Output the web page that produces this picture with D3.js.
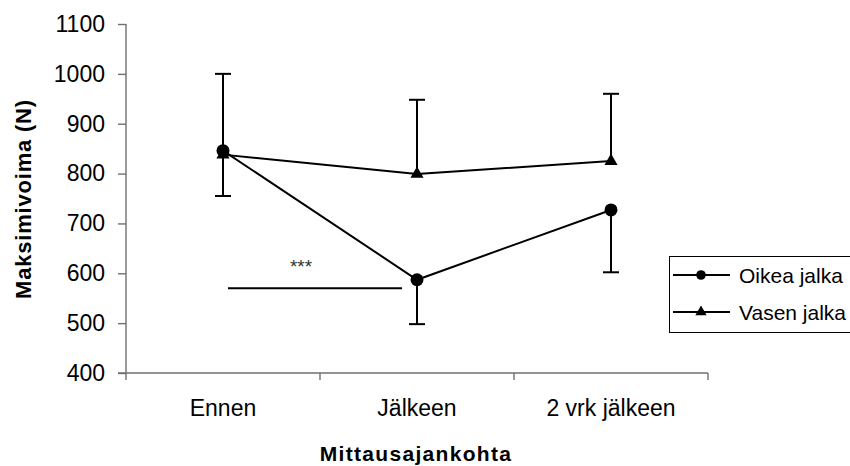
<!DOCTYPE html>
<html>
<head>
<meta charset="utf-8">
<script src="https://cdn.jsdelivr.net/npm/d3@7"></script>
<style>
  html, body { margin: 0; padding: 0; background: #fff; }
  svg { display: block; font-family: "Liberation Sans", Arial, sans-serif; }
</style>
</head>
<body>
<svg id="chart" width="850" height="466"></svg>
<script>
// Measurement times
const categories = ["Ennen", "Jälkeen", "2 vrk jälkeen"];
// Right leg: mean force and SD (drawn downward)
const oikeaValues = [846, 587, 727];
const oikeaSd = [91, 89, 125];
// Left leg: mean force and SD (drawn upward)
const vasenValues = [838, 799, 825];
const vasenSd = [162, 149, 135];
// Y axis ticks
const yTicks = [400, 500, 600, 700, 800, 900, 1000, 1100];
// Significance marker between Ennen and Jälkeen (right leg)
const significance = { from: "Ennen", to: "Jälkeen", value: 570, label: "***" };
const seriesNames = ["Oikea jalka", "Vasen jalka"];

const svg = d3.select("#chart");
const plot = { left: 126, right: 708, top: 24, bottom: 373 };

const x = d3.scalePoint().domain(categories).range([plot.left, plot.right]).padding(0.5);
const xBand = d3.scaleBand().domain(categories).range([plot.left, plot.right]);
const y = d3.scaleLinear().domain([400, 1100]).range([plot.bottom, plot.top]);

const axisColor = "#707070";

// Y axis
const yAxis = svg.append("g")
  .attr("transform", `translate(${plot.left},0)`)
  .call(d3.axisLeft(y).tickValues(yTicks).tickSize(8).tickPadding(13).tickFormat(d3.format("d")));
yAxis.select(".domain").attr("stroke", axisColor).attr("stroke-width", 1.4)
  .attr("d", `M0,${plot.top}V${plot.bottom + 7}`);
yAxis.selectAll(".tick line").attr("stroke", axisColor).attr("stroke-width", 1.4);
yAxis.selectAll(".tick text").attr("fill", "#000").style("font-size", "23px")
  .style("font-family", "'Liberation Sans', Arial, sans-serif");

// X axis with ticks at category boundaries
const xAxisG = svg.append("g").attr("transform", `translate(0,${plot.bottom})`);
xAxisG.append("line").attr("x1", plot.left - 8).attr("x2", plot.right).attr("y1", 0).attr("y2", 0)
  .attr("stroke", axisColor).attr("stroke-width", 1.4);
const boundaries = categories.map(c => xBand(c)).concat([xBand.range()[1]]);
xAxisG.selectAll("line.b").data(boundaries.slice(1)).enter().append("line")
  .attr("class", "b").attr("x1", d => d).attr("x2", d => d).attr("y1", 0).attr("y2", 7)
  .attr("stroke", axisColor).attr("stroke-width", 1.4);
xAxisG.selectAll("text").data(categories).enter().append("text")
  .attr("x", d => x(d)).attr("y", 43).attr("text-anchor", "middle")
  .style("font-size", "23px").attr("fill", "#000").text(d => d);

// Axis titles
svg.append("text")
  .attr("transform", `translate(31,199) rotate(-90)`)
  .attr("text-anchor", "middle").style("font-size", "22px").style("font-weight", "bold")
  .style("letter-spacing", "0.8px").text("Maksimivoima (N)");
svg.append("text")
  .attr("x", 416).attr("y", 461).attr("text-anchor", "middle")
  .style("font-size", "21px").style("font-weight", "bold").style("letter-spacing", "1.3px")
  .text("Mittausajankohta");

// Error bars
function errorBars(values, sds, dir) {
  const g = svg.append("g").attr("stroke", "#000").attr("stroke-width", 2);
  categories.forEach((c, i) => {
    const end = values[i] + dir * sds[i];
    g.append("line").attr("x1", x(c)).attr("x2", x(c)).attr("y1", y(values[i])).attr("y2", y(end));
    g.append("line").attr("x1", x(c) - 8).attr("x2", x(c) + 8).attr("y1", y(end)).attr("y2", y(end));
  });
}
errorBars(vasenValues, vasenSd, 1);
errorBars(oikeaValues, oikeaSd, -1);

// Series lines
const line = d3.line().x((d, i) => x(categories[i])).y(d => y(d));
[oikeaValues, vasenValues].forEach(vals => {
  svg.append("path").datum(vals).attr("d", line)
    .attr("fill", "none").attr("stroke", "#000").attr("stroke-width", 2);
});

// Markers
const circleSym = d3.symbol().type(d3.symbolCircle).size(Math.PI * 6.5 * 6.5);
const triSym = d3.symbol().type(d3.symbolTriangle).size(75);
svg.append("g").selectAll("path").data(vasenValues).enter().append("path")
  .attr("d", triSym).attr("transform", (d, i) => `translate(${x(categories[i])},${y(d)})`)
  .attr("fill", "#000");
svg.append("g").selectAll("path").data(oikeaValues).enter().append("path")
  .attr("d", circleSym).attr("transform", (d, i) => `translate(${x(categories[i])},${y(d)})`)
  .attr("fill", "#000");

// Significance line and stars
const sx1 = x(significance.from) + 5, sx2 = x(significance.to) - 15;
svg.append("line").attr("x1", sx1).attr("x2", sx2)
  .attr("y1", y(significance.value)).attr("y2", y(significance.value))
  .attr("stroke", "#000").attr("stroke-width", 2);
svg.append("text").attr("x", (sx1 + sx2) / 2 - 14).attr("y", y(significance.value) - 15)
  .attr("text-anchor", "middle").style("font-size", "19px").attr("fill", "#333")
  .text(significance.label);

// Legend
const lg = svg.append("g");
lg.append("rect").attr("x", 669.5).attr("y", 256.5).attr("width", 190).attr("height", 76)
  .attr("fill", "#fff").attr("stroke", "#000").attr("stroke-width", 1);
const rows = [275, 312];
const legendSyms = [d3.symbol().type(d3.symbolCircle).size(Math.PI * 4.8 * 4.8),
                    d3.symbol().type(d3.symbolTriangle).size(55)];
seriesNames.forEach((name, i) => {
  lg.append("line").attr("x1", 673).attr("x2", 730).attr("y1", rows[i]).attr("y2", rows[i])
    .attr("stroke", "#000").attr("stroke-width", 2);
  lg.append("path").attr("d", legendSyms[i]).attr("transform", `translate(701,${rows[i]})`)
    .attr("fill", "#000");
  lg.append("text").attr("x", 739).attr("y", rows[i] + 8).style("font-size", "21px")
    .attr("fill", "#000").text(name);
});
</script>
</body>
</html>
